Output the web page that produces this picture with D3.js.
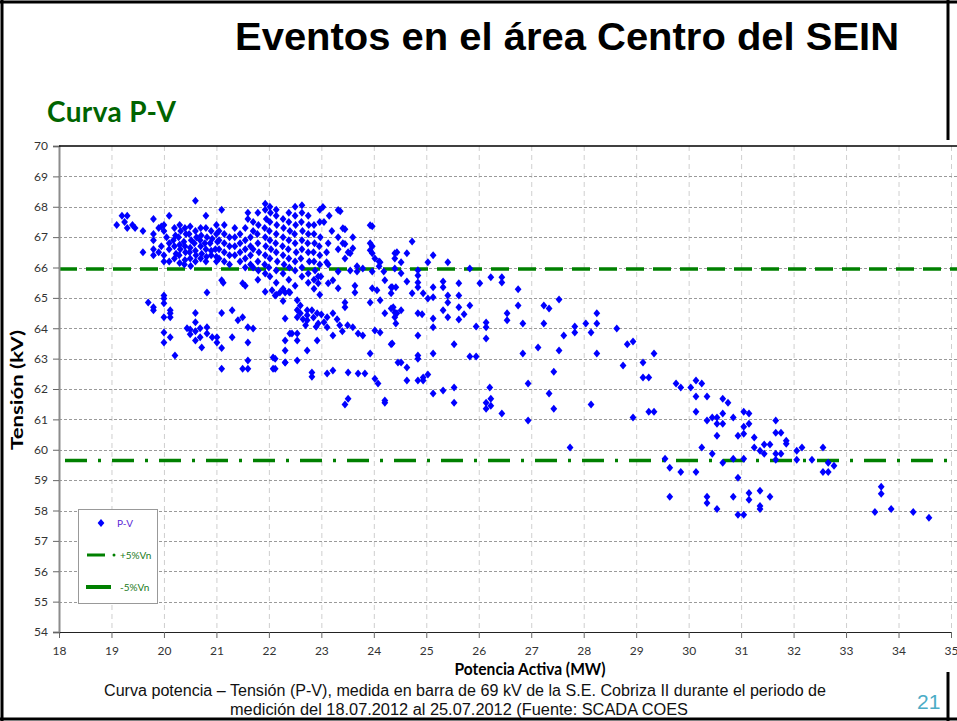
<!DOCTYPE html>
<html><head><meta charset="utf-8">
<script src="https://cdn.jsdelivr.net/npm/d3@7"></script>
<style>body{margin:0;background:#fff}svg{display:block}</style>
</head><body>
<svg id="c" width="957" height="721"></svg>
<script>
// ---------- DATA ----------
const xTicks = [18,19,20,21,22,23,24,25,26,27,28,29,30,31,32,33,34,35];
const yTicks = [54,55,56,57,58,59,60,61,62,63,64,65,66,67,68,69,70];
const refPlus = 65.95;   // +5%Vn
const refMinus = 59.65;  // -5%Vn
const legendLabels = ["P-V", "+5%Vn", "-5%Vn"];

const pvLeftTop = [[19.1,67.4],[19.2,67.7],[19.3,67.7],[19.25,67.5],[19.3,67.3],[19.4,67.4],[19.45,67.3],[19.6,67.2],[19.6,66.5],[19.8,67.6],[19.8,67.1],[19.8,66.9],[19.8,66.6],[19.8,66.4],[19.9,67.3],[19.95,66.7],[19.9,66.5],[20.0,67.4],[20.0,67.2],[20.0,66.4],[20.0,66.2],[20.1,67.7],[20.1,66.8],[20.1,66.6],[20.1,66.2],[20.05,67.0],[19.95,67.35]];

const pvDense20 = [[20.2,67.3],[20.22,67.05],[20.18,66.9],[20.2,66.7],[20.23,66.45],[20.2,66.3],
[20.3,67.4],[20.32,67.2],[20.28,67.0],[20.3,66.75],[20.31,66.6],[20.29,66.4],[20.3,66.15],
[20.4,67.3],[20.42,67.1],[20.38,66.85],[20.4,66.7],[20.41,66.5],[20.4,66.25],[20.39,66.1],
[20.5,67.35],[20.48,67.1],[20.52,66.9],[20.5,66.65],[20.49,66.5],[20.5,66.3],[20.51,66.05],
[20.6,68.2],[20.6,67.2],[20.62,67.0],[20.58,66.8],[20.6,66.55],[20.61,66.4],[20.6,66.2],
[20.7,67.3],[20.71,67.05],[20.69,66.9],[20.7,66.7],[20.72,66.45],[20.7,66.3],
[20.8,67.7],[20.8,67.3],[20.82,67.0],[20.78,66.8],[20.8,66.6],[20.81,66.35],[20.8,66.2],
[20.9,67.2],[20.92,66.95],[20.88,66.8],[20.9,66.55],[20.9,66.4],
[21.0,67.4],[21.0,67.1],[21.02,66.85],[20.98,66.6],[21.0,66.35],[21.0,66.2]];

const pvDense21 = [[21.1,67.9],[21.05,67.2],[21.05,66.9],[21.05,66.6],[21.05,66.3],
[21.15,67.4],[21.15,67.1],[21.15,66.8],[21.15,66.5],[21.15,66.2],
[21.25,67.0],[21.25,66.7],[21.25,66.4],[21.25,66.1],
[21.35,67.3],[21.35,67.0],[21.35,66.7],[21.35,66.4],
[21.45,67.1],[21.45,66.8],[21.45,66.5],[21.45,66.2],
[21.55,67.3],[21.55,66.9],[21.55,66.6],[21.55,66.3],[21.55,66.0],
[21.6,67.8],[21.6,67.6],
[21.65,67.0],[21.65,66.7],[21.65,66.4],[21.65,66.1],
[21.7,67.5],[21.7,67.2],[21.7,66.6],[21.7,66.0],
[20.82,65.18],[21.1,65.58],[21.5,65.48],[21.55,65.4],[21.13,65.5]];

const pvDense22 = [[21.79,67.8],[21.8,67.4],[21.78,67.1],[21.79,66.8],[21.81,66.5],[21.79,66.2],[21.8,65.9],[21.79,65.6],
[21.93,68.1],[21.93,67.9],[21.95,67.6],[21.92,67.3],[21.93,67.0],[21.94,66.7],[21.93,66.4],[21.92,66.1],[21.93,65.8],[21.93,65.2],
[22.02,68.0],[22.03,67.8],[22.02,67.5],[22.01,67.2],[22.02,66.9],[22.04,66.6],[22.02,66.3],[22.0,66.0],[22.02,65.7],
[22.14,67.9],[22.14,67.7],[22.15,67.4],[22.14,67.1],[22.13,66.8],[22.14,66.5],[22.16,66.2],[22.14,65.9],[22.14,65.5],[22.14,65.1],
[22.27,67.6],[22.28,67.3],[22.27,67.0],[22.26,66.7],[22.27,66.4],[22.29,66.1],[22.27,65.8],[22.27,65.3],[22.27,64.9],
[22.38,67.8],[22.38,67.5],[22.4,67.2],[22.38,66.9],[22.37,66.6],[22.38,66.3],[22.39,66.0],[22.38,65.6],[22.38,65.2],
[22.5,68.0],[22.5,67.7],[22.51,67.4],[22.49,67.1],[22.5,66.8],[22.52,66.5],[22.5,66.2],[22.5,65.9],[22.5,65.4],
[22.63,68.05],[22.63,67.8],[22.62,67.5],[22.64,67.2],[22.63,66.9],[22.63,66.6],[22.61,66.3],[22.63,66.0],[22.63,65.7],
[22.75,67.7],[22.76,67.4],[22.75,67.1],[22.74,66.8],[22.75,66.5],[22.77,66.2],[22.75,65.8],[22.75,65.5],
[22.86,67.4],[22.86,67.1],[22.87,66.8],[22.85,66.5],[22.86,66.2],[22.88,65.9],[22.86,65.6],[22.86,65.3],
[22.97,67.9],[22.97,67.5],[22.98,67.0],[22.96,66.7],[22.97,66.4],[22.97,66.1],[22.99,65.7],[22.97,65.1],
[22.06,65.25],[22.12,65.08],[22.21,65.18],[22.31,65.18],[22.4,65.18]];

const pvUpper23 = [[23.41,67.29],[23.6,67.0],[23.93,67.39],[23.93,66.8],[23.93,66.57],[24.02,66.3],[24.44,66.5],[24.35,65.35],[23.1,66.5],[23.1,66.17],[23.41,66.8],[23.51,66.5],[23.6,66.63],[23.32,67.89],[23.03,67.99],
[23.36,67.85],[23.97,67.36],[23.45,67.26],[23.13,66.8],[23.13,66.1],[23.32,67.0],[23.32,66.6],[23.45,66.77],[23.45,66.3],[23.55,66.47],[23.68,66.04],[23.68,65.87],[23.79,65.97],[23.97,66.7],[23.97,66.47],[24.1,66.2],[24.1,66.04],[24.19,65.87],
[22.94,65.7],[22.94,65.48],[23.13,65.48],[23.22,65.58],[23.32,65.87],[23.32,65.32],[23.55,65.9],[23.64,65.4],[23.64,65.18],[23.97,65.87],[23.97,65.32],[24.06,65.25],[23.93,64.85],[23.45,64.85],[23.45,64.69],[23.2,67.2],[23.05,67.5],[23.15,67.7]];

const pvLowerLeft = [[19.7,64.85],[19.8,64.69],[19.8,64.59],[20.0,65.08],[20.0,64.98],[20.0,64.82],[20.12,64.59],[20.12,64.49],[20.12,64.36],[20.0,64.36],[20.0,63.86],[20.0,63.53],[20.12,63.7],[20.21,63.1],
[20.44,64.0],[20.5,63.96],[20.5,63.8],[20.6,64.5],[20.6,64.2],[20.6,63.9],[20.6,63.6],[20.69,64.0],[20.69,63.7],[20.72,63.37],[20.82,64.03],[20.82,63.83],[20.92,63.7],[21.01,63.7],[21.01,63.53],
[21.1,64.5],[21.1,63.35],[21.1,62.67],[21.3,64.59],[21.3,63.7],[21.41,64.26],[21.5,64.36],[21.6,64.03],[21.6,63.53],[21.6,62.94],[21.6,62.67],[21.5,62.67],[21.7,63.99],
[22.08,63.04],[22.08,62.67],[22.31,64.32],[22.31,63.6],[22.31,63.27],[22.31,62.87],[22.4,63.83],[22.54,63.83],[22.6,64.75],
[22.54,64.92],[22.54,64.6],[22.54,64.36],[22.6,64.49],[22.73,64.59],[22.73,64.43],[22.73,64.26],[22.82,64.59],[22.92,64.49],[22.94,64.16],[23.11,64.36],[23.11,64.03],[23.22,64.49],
[22.65,64.3],[22.85,64.35],[23.0,64.45],[23.05,64.2],[23.3,64.3],[23.35,64.1],[23.4,63.9],[23.5,64.1],[22.9,64.05],[22.7,64.1],[23.6,64.03],[23.7,63.83],[23.79,63.76],[23.93,63.17],[24.02,63.93],[24.12,63.86],[24.35,63.5],[24.37,64.69],[24.44,64.49],
[22.44,63.83],[22.54,63.6],[22.73,63.27],[22.92,63.6],[23.22,63.76],
[22.12,63.0],[22.12,62.67],[22.31,62.87],[22.54,62.94],[22.82,62.54],[22.82,62.4],[23.11,62.51],[23.22,62.61],[23.51,62.54],[23.7,62.51],[23.83,62.51],[24.02,62.34],[24.46,62.87],[23.45,61.49],[23.51,61.68],[24.21,61.62],[24.08,62.18]];

const pvMiddle = [[24.73,66.86],[24.40,66.47],[24.40,66.30],[24.63,66.47],[24.52,66.17],[24.12,66.17],[24.40,65.97],[24.52,65.81],[24.84,65.91],[24.84,65.74],[25.03,66.17],[25.13,66.40],[25.41,66.17],[25.83,65.97],
[24.21,65.58],[24.33,65.35],[24.33,65.15],[24.42,65.35],[24.63,65.54],[24.73,65.15],[24.84,65.51],[24.84,65.35],[24.94,65.15],[25.03,64.98],[25.13,65.35],[25.13,65.02],[25.32,65.54],[25.32,65.35],[25.41,65.08],[25.41,64.85],[25.62,65.48],[25.62,65.08],[25.83,64.75],[26.02,65.48],[26.23,65.68],[26.44,65.68],[26.44,65.51],
[24.12,64.92],[24.21,64.49],[24.33,64.65],[24.40,64.52],[24.40,64.36],[24.42,64.16],[24.52,64.59],[24.84,64.49],[24.92,64.46],[25.13,64.32],[25.13,64.03],[25.32,64.59],[25.41,64.36],[25.62,64.69],[25.62,64.29],[25.72,64.46],[25.95,64.06],[26.14,64.19],[26.14,64.03],[26.14,63.66],[26.54,64.49],[26.54,64.26],[26.75,65.28],[26.75,64.75],[26.84,64.16],[27.24,64.75],[27.34,64.65],[27.24,64.16],[27.53,64.95],[27.62,63.76],[27.83,64.06],[27.83,63.86],[28.04,64.16],[28.14,63.86],[28.25,64.49],[28.25,64.16],[28.25,63.17],[28.63,63.99],[28.83,63.47],[28.75,62.77],
[24.33,63.47],[24.52,62.87],[24.63,62.71],[24.84,63.76],[24.84,63.10],[24.84,63.00],[24.63,62.28],[24.84,62.28],[24.94,62.38],[24.94,62.28],[25.03,62.48],[25.13,63.17],[25.13,61.85],[25.32,61.95],[25.53,63.47],[25.53,62.05],[25.53,61.55],[25.83,63.07],[25.95,63.07],[26.21,62.05],[26.14,61.55],[26.14,61.35],[26.23,61.68],[26.23,61.45],[26.44,61.19],[26.84,63.17],[26.94,62.18],[27.34,61.85],[27.43,62.57],[27.43,61.35],[27.53,63.27],[27.13,63.37],[28.14,61.49],[26.94,60.96],[24.21,61.55],[27.74,60.07]];

const pvRight = [[28.94,63.56],[28.94,61.06],[29.13,62.87],[29.13,62.38],[29.24,62.38],[29.24,61.25],[29.34,61.25],[29.34,63.17],[29.55,59.70],[29.64,59.41],[29.64,58.45],[29.76,62.18],[29.85,62.05],[29.85,59.27],[30.04,62.05],[30.14,62.28],[30.25,62.18],[30.14,61.75],[30.14,61.25],[30.14,59.27],[30.25,60.07],[30.35,61.75],[30.35,60.96],[30.35,58.45],[30.35,58.25],[30.45,61.06],[30.54,61.06],[30.54,60.86],[30.54,60.46],[30.45,59.87],[30.54,58.05],[30.65,61.68],[30.75,61.55],[30.65,61.19],[30.65,60.86],[30.65,59.57],[30.85,61.06],[30.85,59.70],[30.85,58.45],[30.94,60.46],[30.94,59.08],[30.94,57.86],[31.05,57.86],[31.05,61.25],[31.05,60.76],[31.05,60.53],[31.05,59.70],[31.15,61.19],[31.15,60.86],[31.15,58.58],[31.15,58.35],[31.25,60.40],[31.25,60.07],[31.36,59.97],[31.44,59.87],[31.36,58.65],[31.36,58.15],[31.36,58.05],[31.44,60.17],[31.55,60.17],[31.55,58.45],[31.66,60.96],[31.66,60.56],[31.76,60.56],[31.66,59.87],[31.66,59.67],[31.76,59.87],[31.86,60.30],[31.86,60.20],[32.06,59.97],[32.06,59.67],[32.16,60.07],[32.35,59.67],[32.56,60.07],[32.56,59.27],[32.66,59.27],[32.66,59.57],[32.77,59.47],[33.67,58.78],[33.67,58.55],[33.55,57.95],[33.86,58.05],[34.28,57.95],[34.58,57.76]];

const pvPoints = [].concat(pvLeftTop, pvDense20, pvDense21, pvDense22, pvUpper23, pvLowerLeft, pvMiddle, pvRight);

// ---------- DRAW ----------
const svg = d3.select("#c");
svg.append("rect").attr("width",957).attr("height",721).attr("fill","#fff");

const x = d3.scaleLinear().domain([18,35]).range([59,951]);
const y = d3.scaleLinear().domain([54,70]).range([632,146]);

// grid
const g = svg.append("g");
g.selectAll(".vg").data(xTicks.slice(1)).join("line")
  .attr("x1",d=>x(d)+0.5).attr("x2",d=>x(d)+0.5).attr("y1",y(70)).attr("y2",y(54))
  .attr("stroke","#cfcfcf").attr("stroke-dasharray","5,4").attr("stroke-width",1);
g.selectAll(".hg").data(yTicks.filter(d=>d>54 && d<70)).join("line")
  .attr("x1",x(18)).attr("x2",957).attr("y1",d=>Math.round(y(d))+0.5).attr("y2",d=>Math.round(y(d))+0.5)
  .attr("stroke","#9a9a9a").attr("stroke-dasharray","3,2").attr("stroke-width",1);

// reference lines
svg.append("line").attr("x1",x(18)).attr("x2",957).attr("y1",y(refPlus)).attr("y2",y(refPlus))
  .attr("stroke","#008000").attr("stroke-width",3.5).attr("stroke-dasharray","18,9");
svg.append("line").attr("x1",x(18)+6).attr("x2",957).attr("y1",y(refMinus)).attr("y2",y(refMinus))
  .attr("stroke","#008000").attr("stroke-width",3.5).attr("stroke-dasharray","22,11,3,11");

// axes
const yAxis = d3.axisLeft(y).tickValues(yTicks).tickSize(6).tickPadding(5).tickFormat(d3.format("d"));
const xAxis = d3.axisBottom(x).tickValues(xTicks).tickSize(6).tickPadding(8).tickFormat(d3.format("d"));
const ya = svg.append("g").attr("transform",`translate(${x(18)},0)`).call(yAxis);
const xa = svg.append("g").attr("transform",`translate(0,${y(54)})`).call(xAxis);
ya.select(".domain").attr("stroke","#8c8c8c").attr("stroke-width",2);
ya.selectAll(".tick line").attr("stroke","#666");
xa.select(".domain").attr("stroke","#222").attr("stroke-width",1);
xa.selectAll(".tick line").attr("stroke","#666");
[ya,xa].forEach(a=>a.selectAll("text").attr("font-family","Lato, sans-serif").attr("font-size",12).attr("fill","#333"));
// top border of plot
svg.append("line").attr("x1",x(18)).attr("x2",957).attr("y1",y(70)).attr("y2",y(70)).attr("stroke","#000").attr("stroke-width",1.5);

// points
const diamond = "M0,-4L3.4,0L0,4L-3.4,0Z";
svg.append("g").selectAll("path").data(pvPoints).join("path")
  .attr("d",diamond).attr("transform",d=>`translate(${x(d[0])},${y(d[1])})`)
  .attr("fill","#0000ff");

// legend
const lg = svg.append("g");
lg.append("rect").attr("x",78.5).attr("y",509.5).attr("width",79).attr("height",94).attr("fill","#fff").attr("stroke","#999");
lg.append("path").attr("d",diamond).attr("transform","translate(101,523)").attr("fill","#0000ff");
lg.append("line").attr("x1",87).attr("x2",105).attr("y1",555).attr("y2",555).attr("stroke","#008000").attr("stroke-width",3);
lg.append("circle").attr("cx",114).attr("cy",555).attr("r",1.5).attr("fill","#008000");
lg.append("line").attr("x1",86).attr("x2",111).attr("y1",587).attr("y2",587).attr("stroke","#008000").attr("stroke-width",4);
lg.selectAll("text").data(legendLabels).join("text")
  .attr("x",(d,i)=> i===0?117:120).attr("y",(d,i)=>[527,559,591][i])
  .attr("font-family","Lato, sans-serif").attr("font-size",10)
  .attr("fill",(d,i)=> i===0?"#5a28d6":"#1a7a1a").text(d=>d);

// axis titles
svg.append("text").attr("x",530).attr("y",675).attr("text-anchor","middle")
  .attr("font-family","Lato, sans-serif").attr("font-weight","bold").attr("font-size",17)
  .attr("textLength",151).attr("lengthAdjust","spacingAndGlyphs").text("Potencia Activa (MW)");
svg.append("text").attr("transform","translate(23,390) rotate(-90)").attr("text-anchor","middle")
  .attr("font-family","Lato, sans-serif").attr("font-weight","bold").attr("font-size",17)
  .attr("textLength",120).attr("lengthAdjust","spacingAndGlyphs").text("Tensión (kV)");

// titles
svg.append("text").attr("x",235).attr("y",50).attr("font-family","Liberation Sans, Arial, sans-serif")
  .attr("font-weight","bold").attr("font-size",39).attr("textLength",664).attr("lengthAdjust","spacingAndGlyphs")
  .attr("fill","#000").text("Eventos en el área Centro del SEIN");
svg.append("text").attr("x",47).attr("y",122).attr("font-family","Lato, sans-serif").attr("font-weight","bold")
  .attr("font-size",28).attr("textLength",129).attr("fill","#006400").text("Curva P-V");

// caption
svg.append("text").attr("x",104).attr("y",696).attr("font-family","Liberation Sans, Arial, sans-serif")
  .attr("font-size",16).attr("textLength",722).attr("lengthAdjust","spacingAndGlyphs").attr("fill","#111")
  .text("Curva potencia – Tensión (P-V), medida en barra de 69 kV de la S.E. Cobriza II  durante el periodo de");
svg.append("text").attr("x",230).attr("y",715).attr("font-family","Liberation Sans, Arial, sans-serif")
  .attr("font-size",16).attr("textLength",458).attr("lengthAdjust","spacingAndGlyphs").attr("fill","#111")
  .text("medición del 18.07.2012 al 25.07.2012 (Fuente: SCADA COES");
svg.append("text").attr("x",917).attr("y",709).attr("font-family","Liberation Sans, Arial, sans-serif")
  .attr("font-size",21).attr("fill","#4bacc6").text("21");

// slide border
svg.append("line").attr("x1",2).attr("x2",2).attr("y1",0).attr("y2",721).attr("stroke","#000").attr("stroke-width",3);
svg.append("line").attr("x1",0).attr("x2",957).attr("y1",2).attr("y2",2).attr("stroke","#000").attr("stroke-width",3);
svg.append("line").attr("x1",0).attr("x2",957).attr("y1",719).attr("y2",719).attr("stroke","#000").attr("stroke-width",3);
svg.append("line").attr("x1",948).attr("x2",948).attr("y1",0).attr("y2",140).attr("stroke","#000").attr("stroke-width",3);
svg.append("line").attr("x1",948).attr("x2",948).attr("y1",672).attr("y2",721).attr("stroke","#000").attr("stroke-width",3);
</script>
</body></html>
